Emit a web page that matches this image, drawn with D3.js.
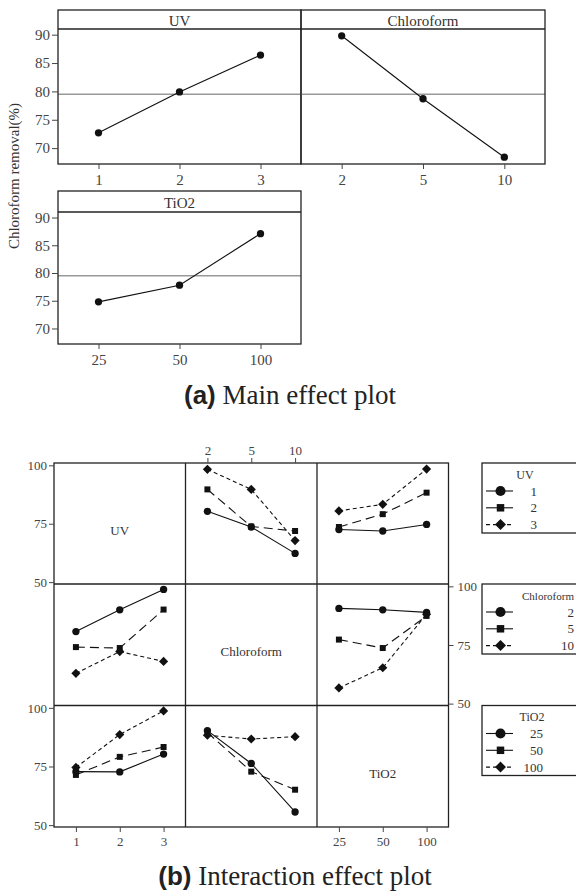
<!DOCTYPE html>
<html lang="en">
<head>
<meta charset="UTF-8">
<title>main and interaction effect plot</title>
<style>
  body { margin: 0; background: #fff; }
  svg { display: block; }
  text { font-family: "Liberation Serif", "DejaVu Serif", serif; fill: #333; font-weight: normal; }
  .box { fill: none; stroke: #222; stroke-width: 1.3px; }
  .axis path { display: none; }
  .axis line { stroke: #444; }
  .axis text { font-family: "Liberation Serif", serif; fill: #444; }
  .mean { stroke: #999; stroke-width: 1.5px; }
</style>
</head>
<body>
<div id="chart"></div>
<script src="https://d3js.org/d3.v7.min.js"></script>
<script>
  // factors and their levels
  const factors = ['UV', 'Chloroform', 'TiO2']
  const levels = [['1', '2', '3'], ['2', '5', '10'], ['25', '50', '100']]

  // (a) main effects, chloroform removal %
  const mainUV = [72.7, 79.9, 86.4]
  const mainChl = [89.8, 78.7, 68.4]
  const mainTiO2 = [74.8, 77.8, 87.1]
  const grandMean = 79.5
  const mainTicks = [70, 75, 80, 85, 90]

  // (b) interactions: rows = level of the line factor, cols = level of x factor
  const uvByChl = [[80.3, 73.6, 62.3], [89.7, 73.8, 71.9], [98.3, 89.7, 67.8]]
  const uvByTiO2 = [[72.5, 71.9, 74.7], [73.6, 79.1, 88.3], [80.5, 83.3, 98.4]]
  const chlByUV = [[80.7, 90.0, 98.7], [74.1, 73.7, 90.1], [62.9, 72.2, 68.0]]
  const chlByTiO2 = [[90.6, 90.0, 88.9], [77.3, 73.7, 87.4], [56.7, 65.3, 88.1]]
  const tio2ByUV = [[72.8, 72.7, 80.3], [71.4, 79.1, 83.3], [74.6, 88.6, 98.7]]
  const tio2ByChl = [[90.3, 76.3, 55.6], [89.5, 72.8, 65.1], [88.3, 86.7, 87.7]]
  const interTicks = [50, 75, 100]

  const inter = [
    [null, uvByChl, uvByTiO2],
    [chlByUV, null, chlByTiO2],
    [tio2ByUV, tio2ByChl, null]
  ]

  const W = 576, H = 895
  const svg = d3.select('#chart').append('svg')
    .attr('width', W)
    .attr('height', H)

  const dashes = [null, '9,5', '4,3']
  const shapes = [d3.symbolCircle, d3.symbolSquare, d3.symbolSquare]

  function marker(g, i, x, y, big) {
    let size = big ? [80, 56, 60][i] : [42, 36, 42][i]
    g.append('path')
      .attr('d', d3.symbol(shapes[i], size)())
      .attr('transform', `translate(${x},${y})` + (i === 2 ? ' rotate(45)' : ''))
      .attr('fill', '#111')
  }

  function styleAxis(g, fs) {
    g.attr('class', 'axis')
      .attr('font-family', null)
      .attr('font-size', null)
    g.selectAll('text').style('font-size', fs + 'px')
  }

  // ---------- (a) main effect plot ----------
  const mainPanels = [
    { name: 'UV', lv: levels[0], v: mainUV, x0: 58, x1: 301, top: 10, hdr: 29, bot: 164, yAxis: true },
    { name: 'Chloroform', lv: levels[1], v: mainChl, x0: 301, x1: 545, top: 10, hdr: 29, bot: 164, yAxis: false },
    { name: 'TiO2', lv: levels[2], v: mainTiO2, x0: 58, x1: 301, top: 191, hdr: 212, bot: 344, yAxis: true }
  ]

  mainPanels.forEach(p => {
    const x = d3.scalePoint().domain(p.lv).range([p.x0, p.x1]).padding(0.5)
    const y = d3.scaleLinear().domain([67.2, 91]).range([p.bot, p.hdr])
    const g = svg.append('g')

    g.append('line').attr('class', 'mean')
      .attr('x1', p.x0).attr('x2', p.x1)
      .attr('y1', y(grandMean)).attr('y2', y(grandMean))

    const pts = p.lv.map((l, i) => [x(l), y(p.v[i])])
    g.append('path')
      .attr('d', d3.line()(pts))
      .attr('fill', 'none')
      .attr('stroke', '#111')
      .attr('stroke-width', 1.1)
    pts.forEach(d => marker(g, 0, d[0], d[1], false))

    g.append('rect').attr('class', 'box')
      .attr('x', p.x0).attr('y', p.top)
      .attr('width', p.x1 - p.x0).attr('height', p.bot - p.top)
    g.append('line').attr('class', 'box')
      .attr('x1', p.x0).attr('x2', p.x1)
      .attr('y1', p.hdr).attr('y2', p.hdr)
    g.append('text')
      .attr('x', (p.x0 + p.x1) / 2)
      .attr('y', (p.top + p.hdr) / 2 + 1)
      .attr('text-anchor', 'middle')
      .attr('dominant-baseline', 'central')
      .style('font-size', '15px')
      .text(p.name)

    const xa = g.append('g')
      .attr('transform', `translate(0,${p.bot})`)
      .call(d3.axisBottom(x).tickSize(5).tickPadding(5))
    styleAxis(xa, 15)

    if (p.yAxis) {
      const ya = g.append('g')
        .attr('transform', `translate(${p.x0},0)`)
        .call(d3.axisLeft(y).tickValues(mainTicks).tickSize(6).tickPadding(2))
      styleAxis(ya, 15)
    }
  })

  svg.append('text')
    .attr('transform', 'translate(19,176) rotate(-90)')
    .attr('text-anchor', 'middle')
    .style('font-size', '15px')
    .text('Chloroform removal(%)')

  const capA = svg.append('text')
    .attr('x', 290).attr('y', 404)
    .attr('text-anchor', 'middle')
  capA.append('tspan')
    .style('font-family', '"Liberation Sans", Arial, sans-serif')
    .style('font-weight', 'bold')
    .style('font-size', '26px')
    .style('fill', '#222')
    .text('(a)')
  capA.append('tspan')
    .style('font-size', '27px')
    .style('fill', '#222')
    .text(' Main effect plot')

  // ---------- (b) interaction effect plot ----------
  const colX = [54, 185.5, 317, 448.5]
  const rowY = [463, 584, 705.5, 827]

  const xs = levels.map((lv, c) =>
    d3.scalePoint().domain(lv).range([colX[c], colX[c + 1]]).padding(0.5))
  const ys = factors.map((f, r) =>
    d3.scaleLinear().domain([49.2, 101]).range([rowY[r + 1], rowY[r]]))

  const grid = svg.append('g')

  for (let r = 0; r < 3; r++) {
    for (let c = 0; c < 3; c++) {
      if (r === c) {
        grid.append('text')
          .attr('x', (colX[c] + colX[c + 1]) / 2)
          .attr('y', (rowY[r] + rowY[r + 1]) / 2 + 7)
          .attr('text-anchor', 'middle')
          .attr('dominant-baseline', 'central')
          .style('font-size', '13px')
          .text(factors[r])
        continue
      }
      const series = inter[r][c]
      series.forEach((vals, i) => {
        const pts = levels[c].map((l, k) => [xs[c](l), ys[r](vals[k])])
        grid.append('path')
          .attr('d', d3.line()(pts))
          .attr('fill', 'none')
          .attr('stroke', '#111')
          .attr('stroke-width', 1.1)
          .attr('stroke-dasharray', dashes[i])
        pts.forEach(d => marker(grid, i, d[0], d[1], false))
      })
    }
  }

  // grid frame
  grid.append('rect').attr('class', 'box')
    .attr('x', colX[0]).attr('y', rowY[0])
    .attr('width', colX[3] - colX[0]).attr('height', rowY[3] - rowY[0])
  ;[1, 2].forEach(k => {
    grid.append('line').attr('class', 'box')
      .attr('x1', colX[k]).attr('x2', colX[k])
      .attr('y1', rowY[0]).attr('y2', rowY[3])
    grid.append('line').attr('class', 'box')
      .attr('x1', colX[0]).attr('x2', colX[3])
      .attr('y1', rowY[k]).attr('y2', rowY[k])
  })

  // axes
  ;[0, 2].forEach(r => {
    const a = grid.append('g')
      .attr('transform', `translate(${colX[0]},0)`)
      .call(d3.axisLeft(ys[r]).tickValues(interTicks).tickSize(5).tickPadding(2))
    styleAxis(a, 13)
  })
  const ra = grid.append('g')
    .attr('transform', `translate(${colX[3]},0)`)
    .call(d3.axisRight(ys[1]).tickValues(interTicks).tickSize(5).tickPadding(4))
  styleAxis(ra, 13)

  const ta = grid.append('g')
    .attr('transform', `translate(0,${rowY[0]})`)
    .call(d3.axisTop(xs[1]).tickSize(5).tickPadding(3))
  styleAxis(ta, 13)
  ;[0, 2].forEach(c => {
    const a = grid.append('g')
      .attr('transform', `translate(0,${rowY[3]})`)
      .call(d3.axisBottom(xs[c]).tickSize(5).tickPadding(5))
    styleAxis(a, 13)
  })

  // legends
  const legendPos = [
    { titleX: 525, labelX: 537, fs: 12 },
    { titleX: 548, labelX: 574, fs: 11 },
    { titleX: 532, labelX: 543, fs: 12 }
  ]
  factors.forEach((f, r) => {
    const lg = svg.append('g').attr('transform', `translate(482,${rowY[r]})`)
    lg.append('rect').attr('class', 'box')
      .attr('width', 120).attr('height', 70)
    lg.append('text')
      .attr('x', legendPos[r].titleX - 482).attr('y', 11.5)
      .attr('text-anchor', 'middle')
      .attr('dominant-baseline', 'central')
      .style('font-size', legendPos[r].fs + 'px')
      .text(f)
    levels[r].forEach((l, i) => {
      const yy = 28 + i * 16.8
      lg.append('line')
        .attr('x1', 4).attr('x2', 31)
        .attr('y1', yy).attr('y2', yy)
        .attr('stroke', '#111')
        .attr('stroke-width', 1.1)
        .attr('stroke-dasharray', i === 2 ? '4,3' : null)
      marker(lg, i, 18.5, yy, true)
      lg.append('text')
        .attr('x', legendPos[r].labelX - 482).attr('y', yy)
        .attr('text-anchor', 'end')
        .attr('dominant-baseline', 'central')
        .style('font-size', '13px')
        .text(l)
    })
  })

  const capB = svg.append('text')
    .attr('x', 295).attr('y', 885)
    .attr('text-anchor', 'middle')
  capB.append('tspan')
    .style('font-family', '"Liberation Sans", Arial, sans-serif')
    .style('font-weight', 'bold')
    .style('font-size', '26px')
    .style('fill', '#222')
    .text('(b)')
  capB.append('tspan')
    .style('font-size', '27px')
    .style('fill', '#222')
    .text(' Interaction effect plot')
</script>
</body>
</html>
